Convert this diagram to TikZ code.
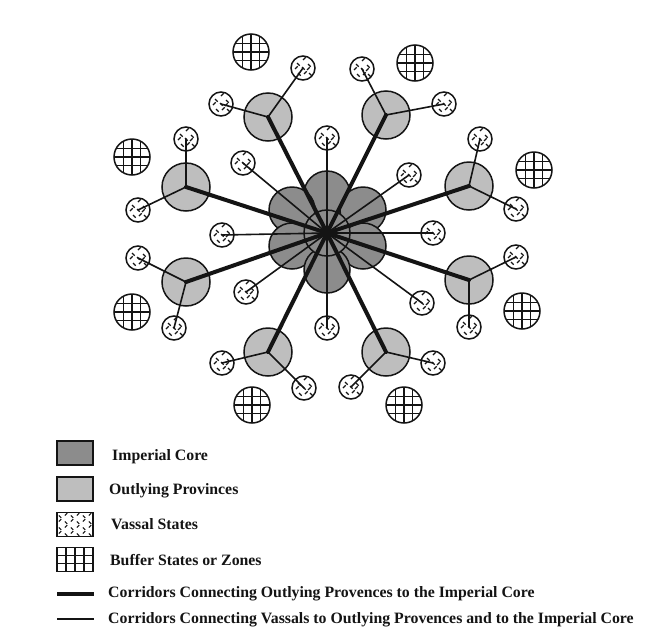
\documentclass[tikz,border=0pt]{standalone}
\usepackage{fontspec}
\setmainfont{Liberation Serif}
\definecolor{coregray}{RGB}{140,140,140}
\definecolor{provgray}{RGB}{190,190,190}
\definecolor{inkc}{RGB}{20,20,20}
\newcommand\vasspat{%
  \begin{scope}[shift={(path picture bounding box.center)}]
  \foreach \px/\py/\pa in {-6/-5/45, 0/-8/-45, 5/-4/45, -8/1/-45, -1/-1/45, 4/2/-45, -5/5/45, 1/6/-45, 6/5/45}{%
    \draw[line width=1.1pt,inkc] (\px,\py) -- ++(\pa:3.8);}
  \end{scope}}
\newcommand\buffpat{%
  \begin{scope}[shift={(path picture bounding box.center)}]
  \draw[line width=1.4pt,inkc] (-8.5,-20) -- (-8.5,20) (0,-20) -- (0,20) (8.5,-20) -- (8.5,20)
     (-20,-8.5) -- (20,-8.5) (-20,0) -- (20,0) (-20,8.5) -- (20,8.5);
  \end{scope}}
\newcommand\lvasspat{%
  \begin{scope}[shift={(path picture bounding box.center)}]
  \foreach \i in {0,...,5}{\foreach \j in {0,...,3}{%
    \pgfmathsetmacro\ang{mod(\i+\j,2)==0 ? 45 : -45}
    \draw[line width=1.1pt,inkc] ({-15+6*\i-1.2},{-9+6*\j}) -- ++(\ang:3.4);}}
  \end{scope}}
\newcommand\lbuffpat{%
  \begin{scope}[shift={(path picture bounding box.center)}]
  \draw[line width=1.4pt,inkc] (-9,-15) -- (-9,15) (0,-15) -- (0,15) (9,-15) -- (9,15)
     (-20,-4.2) -- (20,-4.2) (-20,4.2) -- (20,4.2);
  \end{scope}}
\begin{document}
\begin{tikzpicture}[x=1pt,y=-1pt,
  outl/.style={line width=1.5pt,draw=inkc},
  corec/.style={circle,outl,fill=coregray,minimum size=46pt,inner sep=0pt},
  provc/.style={circle,outl,fill=provgray,minimum size=48pt,inner sep=0pt},
  vassc/.style={circle,outl,fill=white,minimum size=24pt,inner sep=0pt,path picture={\vasspat}},
  buffc/.style={circle,outl,fill=white,minimum size=36pt,inner sep=0pt,path picture={\buffpat}},
  lbox/.style={rectangle,outl,minimum width=36pt,minimum height=24pt,inner sep=0pt},
  thickc/.style={line width=4pt,draw=inkc,line cap=round},
  thinc/.style={line width=1.6pt,draw=inkc,line cap=round},
  ltext/.style={anchor=base west,inner sep=0pt,font=\fontsize{15.8}{18}\selectfont\bfseries,text=inkc},
]
\useasboundingbox[fill=white] (0,0) rectangle (661,635);

% imperial core
\node[corec] (k1) at (327,194) {};
\node[corec] (k2) at (292,210) {};
\node[corec] (k3) at (363,210) {};
\node[corec] (k4) at (292,246) {};
\node[corec] (k5) at (363,246) {};
\node[corec] (k6) at (327,270) {};
\node[corec] (C) at (327,233) {};

% outlying provinces
\node[provc] (p1) at (268,117) {};
\node[provc] (p2) at (186,187) {};
\node[provc] (p3) at (186,282) {};
\node[provc] (p4) at (268,352) {};
\node[provc] (p5) at (386,352) {};
\node[provc] (p6) at (469,280) {};
\node[provc] (p7) at (386,115) {};
\node[provc] (p8) at (469,186) {};

% inner vassals
\node[vassc] (i1) at (327,138) {};
\node[vassc] (i2) at (243,163) {};
\node[vassc] (i3) at (222,235) {};
\node[vassc] (i4) at (246,292) {};
\node[vassc] (i5) at (327,328) {};
\node[vassc] (i6) at (422,303) {};
\node[vassc] (i7) at (433,233) {};
\node[vassc] (i8) at (409,175) {};

% province vassals
\node[vassc] (v1a) at (303,68) {};
\node[vassc] (v1b) at (221,104) {};
\node[vassc] (v2a) at (186,139) {};
\node[vassc] (v2b) at (138,210) {};
\node[vassc] (v3a) at (138,258) {};
\node[vassc] (v3b) at (174,328) {};
\node[vassc] (v4a) at (222,363) {};
\node[vassc] (v4b) at (304,388) {};
\node[vassc] (v5a) at (351,387) {};
\node[vassc] (v5b) at (433,363) {};
\node[vassc] (v6a) at (516,257) {};
\node[vassc] (v6b) at (469,327) {};
\node[vassc] (v7a) at (362,69) {};
\node[vassc] (v7b) at (444,104) {};
\node[vassc] (v8a) at (480,139) {};
\node[vassc] (v8b) at (516,209) {};

% buffers
\node[buffc] (b1) at (251,52) {};
\node[buffc] (b2) at (132,157) {};
\node[buffc] (b3) at (132,312) {};
\node[buffc] (b4) at (252,405) {};
\node[buffc] (b5) at (404,405) {};
\node[buffc] (b6) at (522,311) {};
\node[buffc] (b7) at (415,63) {};
\node[buffc] (b8) at (534,170) {};

% thin corridors
\foreach \n in {i1,i2,i3,i4,i5,i6,i7,i8}{\draw[thinc] (C.center) -- (\n.center);}
\foreach \p in {1,...,8}{\draw[thinc] (p\p.center) -- (v\p a.center) (p\p.center) -- (v\p b.center);}
% thick corridors
\foreach \p in {1,...,8}{\draw[thickc] (C.center) -- (p\p.center);}

% legend
\node[lbox,fill=coregray] (L1) at (75,453) {};
\node[lbox,fill=provgray] (L2) at (75,489) {};
\node[lbox,fill=white,path picture={\lvasspat}] (L3) at (75,524.5) {};
\node[lbox,fill=white,path picture={\lbuffpat}] (L4) at (75,559.5) {};
\coordinate (t1) at (57,594);
\coordinate (t2) at (94,594);
\coordinate (s1) at (57,619);
\coordinate (s2) at (94,619);
\draw[thickc,line cap=butt] (t1) -- (t2);
\draw[thinc,line cap=butt] (s1) -- (s2);

\node[ltext] (T1) at (112,460) {Imperial Core};
\node[ltext] (T2) at (109,494) {Outlying Provinces};
\node[ltext] (T3) at (111,529) {Vassal States};
\node[ltext] (T4) at (110,565) {Buffer States or Zones};
\node[ltext] (T5) at (108,597) {Corridors Connecting Outlying Provences to the Imperial Core};
\node[ltext] (T6) at (108,623) {Corridors Connecting Vassals to Outlying Provences and to the Imperial Core};
\end{tikzpicture}
\end{document}
